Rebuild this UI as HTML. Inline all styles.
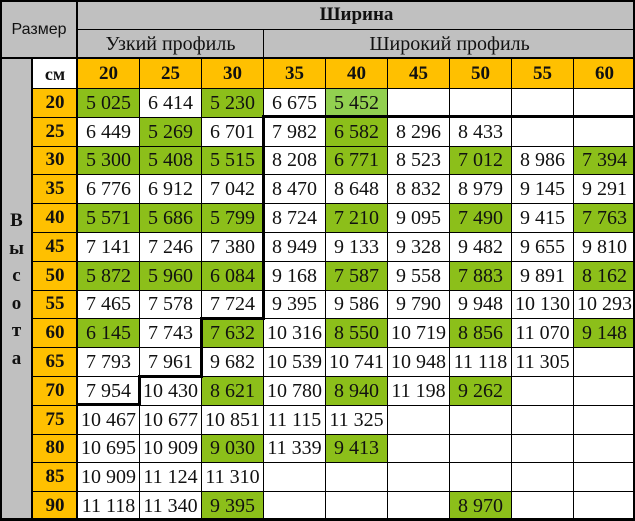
<!DOCTYPE html>
<html><head><meta charset="utf-8"><style>
body{margin:0;width:635px;height:520px;background:#fff;overflow:hidden;position:relative}
table{position:absolute;left:0;top:0;width:635px;border-collapse:collapse;table-layout:fixed;font-family:"Liberation Serif","DejaVu Serif",serif;font-size:20px;color:#111}
td{border:1px solid #000;padding:0;text-align:center;vertical-align:middle;white-space:nowrap;overflow:hidden;line-height:18px}
.g{background:#8cbf1a}.lg{background:#92d050}.y{background:#ffc000;font-weight:bold;font-size:19px}
.gr{background:#c0c0c0}
tr.d td{height:27.8px}
.k{position:absolute;background:#000}
</style></head><body>
<table>
<colgroup><col style="width:32px"><col style="width:45px"><col style="width:62px"><col style="width:62px"><col style="width:62px"><col style="width:62px"><col style="width:62px"><col style="width:62px"><col style="width:62px"><col style="width:62px"><col style="width:62px"></colgroup>
<tr><td class="gr" rowspan="2" colspan="2" style="font-family:'Liberation Sans',sans-serif;font-size:16px">Размер</td><td class="gr" colspan="9" style="font-weight:bold;font-size:19px;height:28px">Ширина</td></tr>
<tr><td class="gr" colspan="3" style="font-size:20px;height:28px">Узкий профиль</td><td class="gr" colspan="6" style="font-size:20px">Широкий профиль</td></tr>
<tr><td class="gr" rowspan="16" style="vertical-align:top;font-weight:bold;font-size:19px;line-height:27.5px;padding-top:148px">В<br>ы<br>с<br>о<br>т<br>а</td><td style="font-weight:bold;font-size:18px;height:29px">см</td><td class="y">20</td><td class="y">25</td><td class="y">30</td><td class="y">35</td><td class="y">40</td><td class="y">45</td><td class="y">50</td><td class="y">55</td><td class="y">60</td></tr>
<tr class="d"><td class="y">20</td><td class="g">5 025</td><td>6 414</td><td class="g">5 230</td><td>6 675</td><td class="lg">5 452</td><td></td><td></td><td></td><td></td></tr>
<tr class="d"><td class="y">25</td><td>6 449</td><td class="g">5 269</td><td>6 701</td><td>7 982</td><td class="g">6 582</td><td>8 296</td><td>8 433</td><td></td><td></td></tr>
<tr class="d"><td class="y">30</td><td class="g">5 300</td><td class="g">5 408</td><td class="g">5 515</td><td>8 208</td><td class="g">6 771</td><td>8 523</td><td class="g">7 012</td><td>8 986</td><td class="g">7 394</td></tr>
<tr class="d"><td class="y">35</td><td>6 776</td><td>6 912</td><td>7 042</td><td>8 470</td><td>8 648</td><td>8 832</td><td>8 979</td><td>9 145</td><td>9 291</td></tr>
<tr class="d"><td class="y">40</td><td class="g">5 571</td><td class="g">5 686</td><td class="g">5 799</td><td>8 724</td><td class="g">7 210</td><td>9 095</td><td class="g">7 490</td><td>9 415</td><td class="g">7 763</td></tr>
<tr class="d"><td class="y">45</td><td>7 141</td><td>7 246</td><td>7 380</td><td>8 949</td><td>9 133</td><td>9 328</td><td>9 482</td><td>9 655</td><td>9 810</td></tr>
<tr class="d"><td class="y">50</td><td class="g">5 872</td><td class="g">5 960</td><td class="g">6 084</td><td>9 168</td><td class="g">7 587</td><td>9 558</td><td class="g">7 883</td><td>9 891</td><td class="g">8 162</td></tr>
<tr class="d"><td class="y">55</td><td>7 465</td><td>7 578</td><td>7 724</td><td>9 395</td><td>9 586</td><td>9 790</td><td>9 948</td><td>10 130</td><td>10 293</td></tr>
<tr class="d"><td class="y">60</td><td class="g">6 145</td><td>7 743</td><td class="g">7 632</td><td>10 316</td><td class="g">8 550</td><td>10 719</td><td class="g">8 856</td><td>11 070</td><td class="g">9 148</td></tr>
<tr class="d"><td class="y">65</td><td>7 793</td><td>7 961</td><td>9 682</td><td>10 539</td><td>10 741</td><td>10 948</td><td>11 118</td><td>11 305</td><td></td></tr>
<tr class="d"><td class="y">70</td><td>7 954</td><td>10 430</td><td class="g">8 621</td><td>10 780</td><td class="g">8 940</td><td>11 198</td><td class="g">9 262</td><td></td><td></td></tr>
<tr class="d"><td class="y">75</td><td>10 467</td><td>10 677</td><td>10 851</td><td>11 115</td><td>11 325</td><td></td><td></td><td></td><td></td></tr>
<tr class="d"><td class="y">80</td><td>10 695</td><td>10 909</td><td class="g">9 030</td><td>11 339</td><td class="g">9 413</td><td></td><td></td><td></td><td></td></tr>
<tr class="d"><td class="y">85</td><td>10 909</td><td>11 124</td><td>11 310</td><td></td><td></td><td></td><td></td><td></td><td></td></tr>
<tr class="d"><td class="y">90</td><td>11 118</td><td>11 340</td><td class="g">9 395</td><td></td><td></td><td></td><td class="g">8 970</td><td></td><td></td></tr>
</table>
<div class="k" style="left:0;top:0;width:635px;height:2px"></div>
<div class="k" style="left:0;top:518px;width:635px;height:2px"></div>
<div class="k" style="left:0;top:0;width:2px;height:520px"></div>
<div class="k" style="left:633px;top:0;width:2px;height:520px"></div>
<div class="k" style="left:76px;top:0;width:2px;height:520px"></div>
<div class="k" style="left:31px;top:57px;width:2px;height:463px"></div>
<div class="k" style="left:0;top:57px;width:635px;height:2px"></div>
<div class="k" style="left:262px;top:115px;width:373px;height:3px"></div>
<div class="k" style="left:262px;top:115px;width:3px;height:204px"></div>
<div class="k" style="left:200px;top:317px;width:65px;height:3px"></div>
<div class="k" style="left:200px;top:317px;width:3px;height:60px"></div>
<div class="k" style="left:138px;top:375px;width:65px;height:3px"></div>
<div class="k" style="left:138px;top:375px;width:3px;height:31px"></div>
<div class="k" style="left:77px;top:403px;width:64px;height:3px"></div>
</body></html>
